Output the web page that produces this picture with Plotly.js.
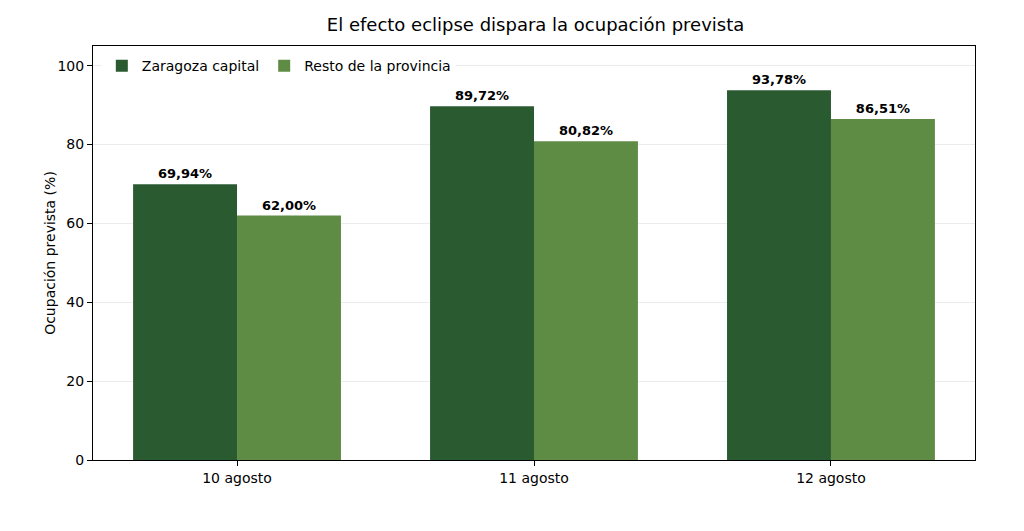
<!DOCTYPE html>
<html>
<head>
<meta charset="utf-8">
<script src="https://cdn.plot.ly/plotly-3.0.1.min.js"></script>
<style>body{margin:0;background:#fff}#plot{width:1024px;height:531px}</style>
</head>
<body>
<div id="plot"></div>
<script>
const dias = ['10 agosto', '11 agosto', '12 agosto'];
const zaragoza = [69.94, 89.72, 93.78];
const provincia = [62.00, 80.82, 86.51];

function fmt(v) {
	return v.toFixed(2).replace('.', ',') + '%';
}

const traces = [
	{x: dias, y: zaragoza, name: 'Zaragoza capital', type: 'bar',
		marker: {color: '#2a5a30'}, text: zaragoza.map(fmt), textposition: 'outside',
		textfont: {family: 'DejaVu Sans', size: 13, color: '#000', weight: 'bold'}, cliponaxis: false},
	{x: dias, y: provincia, name: 'Resto de la provincia', type: 'bar',
		marker: {color: '#5e8c45'}, text: provincia.map(fmt), textposition: 'outside',
		textfont: {family: 'DejaVu Sans', size: 13, color: '#000', weight: 'bold'}, cliponaxis: false}
];

const layout = {
	width: 1024, height: 531,
	margin: {l: 93, r: 49, t: 46, b: 71},
	font: {family: 'DejaVu Sans', size: 14, color: '#000'},
	title: {text: 'El efecto eclipse dispara la ocupación prevista', font: {size: 18}, x: 0.523, y: 0.965},
	barmode: 'group', bargap: 0.3, bargroupgap: 0,
	showlegend: true,
	legend: {orientation: 'h', x: 0.01, y: 0.99, xanchor: 'left', yanchor: 'top', font: {size: 14}},
	xaxis: {range: [-0.485, 2.485], showline: true, mirror: true, linecolor: '#000', linewidth: 1,
		ticks: 'outside', ticklen: 5, tickcolor: '#000'},
	yaxis: {range: [0, 105], showline: true, mirror: true, linecolor: '#000', linewidth: 1,
		ticks: 'outside', ticklen: 5, tickcolor: '#000', dtick: 20, showgrid: true, gridcolor: '#ececec',
		zeroline: false, title: {text: 'Ocupación prevista (%)', font: {size: 14}}},
	plot_bgcolor: '#fff', paper_bgcolor: '#fff'
};

Plotly.newPlot('plot', traces, layout, {displayModeBar: false});
</script>
</body>
</html>
